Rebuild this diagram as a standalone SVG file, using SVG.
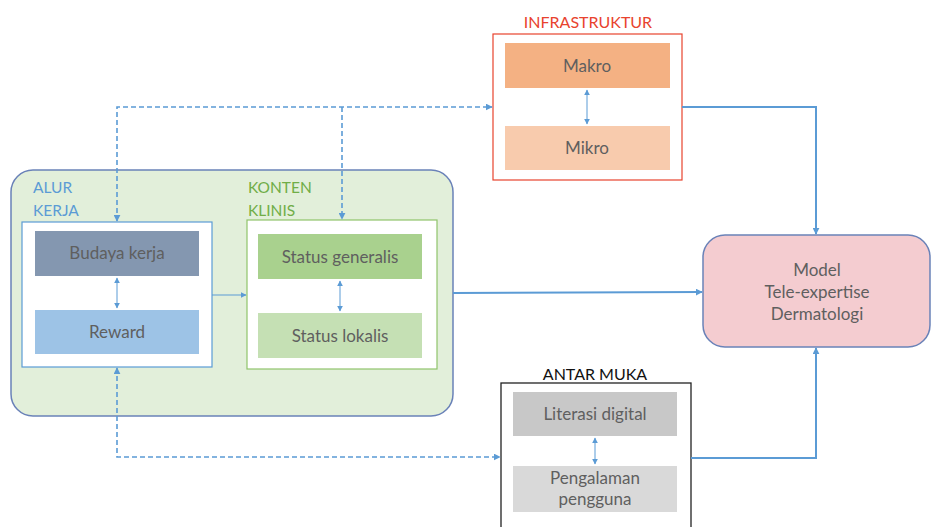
<svg xmlns="http://www.w3.org/2000/svg" width="938" height="527" viewBox="0 0 938 527">
<style>
text{font-family:Lato,"Open Sans","Liberation Sans",sans-serif;}
.lbl{font-size:17px;fill:#5f5f5f;text-anchor:middle;}
.ttl{font-size:15.5px;}
.hdr{font-size:16px;text-anchor:middle;}
.conn{fill:none;stroke:#5b9bd5;}
.thick{stroke-width:2;}
.thin{stroke-width:1;}
.dash{stroke-width:1.6;stroke-dasharray:5 3;}
</style>
<defs>
<marker id="ah" viewBox="0 0 10 10" refX="9" refY="5" markerWidth="7" markerHeight="7" markerUnits="userSpaceOnUse" orient="auto-start-reverse">
<path d="M0,0 L10,5 L0,10 Z" fill="#5b9bd5"/>
</marker>
<marker id="ahs" viewBox="0 0 10 10" refX="9" refY="5" markerWidth="6" markerHeight="6" markerUnits="userSpaceOnUse" orient="auto-start-reverse">
<path d="M0,0 L10,5 L0,10 Z" fill="#5b9bd5"/>
</marker>
</defs>
<rect width="938" height="527" fill="#ffffff"/>

<g id="green-container">
<rect x="11" y="170" width="442" height="246" rx="22" fill="#e2efda" stroke="#6a82b8" stroke-width="1.5"/>
</g>

<g id="alur-kerja">
<text class="ttl" x="33" y="193" fill="#5b9bd5">ALUR</text>
<text class="ttl" x="33" y="216" fill="#5b9bd5">KERJA</text>
<rect x="22" y="222" width="190" height="145" fill="#ffffff" stroke="#5b9bd5" stroke-width="1.2"/>
</g>
<g id="budaya-kerja">
<rect x="35" y="231" width="164" height="45" fill="#8497b0"/>
<text class="lbl" x="117" y="259">Budaya kerja</text>
</g>
<g id="reward">
<rect x="35" y="310" width="164" height="44" fill="#9dc3e6"/>
<text class="lbl" x="117" y="338">Reward</text>
</g>

<g id="konten-klinis">
<text class="ttl" x="248" y="193" fill="#70ad47">KONTEN</text>
<text class="ttl" x="248" y="216" fill="#70ad47">KLINIS</text>
<rect x="247" y="220" width="190" height="149" fill="#ffffff" stroke="#8fc36b" stroke-width="1.2"/>
</g>
<g id="status-generalis">
<rect x="258" y="234" width="164" height="45" fill="#a9d18e"/>
<text class="lbl" x="340" y="263">Status generalis</text>
</g>
<g id="status-lokalis">
<rect x="258" y="313" width="164" height="45" fill="#c5e0b4"/>
<text class="lbl" x="340" y="342">Status lokalis</text>
</g>

<g id="infrastruktur">
<text class="hdr" x="588" y="28" fill="#e8432e">INFRASTRUKTUR</text>
<rect x="493" y="34" width="189" height="146" fill="#ffffff" stroke="#e8432e" stroke-width="1.2"/>
</g>
<g id="makro">
<rect x="505" y="43" width="165" height="45" fill="#f4b183"/>
<text class="lbl" x="587" y="72">Makro</text>
</g>
<g id="mikro">
<rect x="505" y="126" width="165" height="44" fill="#f8cbad"/>
<text class="lbl" x="587" y="154">Mikro</text>
</g>

<g id="antar-muka">
<text class="hdr" x="595" y="380" fill="#111111">ANTAR MUKA</text>
<rect x="501" y="383" width="190" height="160" fill="#ffffff" stroke="#222222" stroke-width="1.3"/>
</g>
<g id="literasi-digital">
<rect x="513" y="392" width="164" height="44" fill="#c8c8c8"/>
<text class="lbl" x="595" y="420">Literasi digital</text>
</g>
<g id="pengalaman-pengguna">
<rect x="513" y="466" width="164" height="46" fill="#d9d9d9"/>
<text class="lbl" x="595" y="484">Pengalaman</text>
<text class="lbl" x="595" y="505">pengguna</text>
</g>

<g id="model">
<rect x="703" y="235" width="227" height="112" rx="22" fill="#f4ccd0" stroke="#6a82b8" stroke-width="1.5"/>
<text class="lbl" x="817" y="276" fill="#6f6364">Model</text>
<text class="lbl" x="817" y="298">Tele-expertise</text>
<text class="lbl" x="817" y="320">Dermatologi</text>
</g>

<g id="connectors">
<line class="conn thin" x1="117" y1="278" x2="117" y2="308" marker-start="url(#ahs)" marker-end="url(#ahs)"/>
<line class="conn thin" x1="340" y1="281" x2="340" y2="311" marker-start="url(#ahs)" marker-end="url(#ahs)"/>
<line class="conn thin" x1="587" y1="90" x2="587" y2="124" marker-start="url(#ahs)" marker-end="url(#ahs)"/>
<line class="conn thin" x1="595" y1="438" x2="595" y2="464" marker-start="url(#ahs)" marker-end="url(#ahs)"/>
<line class="conn thin" x1="212" y1="295" x2="246" y2="295" marker-end="url(#ahs)"/>
<polyline class="conn dash" points="117,221 117,107 492,107" marker-start="url(#ah)" marker-end="url(#ah)"/>
<line class="conn dash" x1="342" y1="107" x2="342" y2="219" marker-end="url(#ah)"/>
<polyline class="conn dash" points="117,368 117,457 500,457" marker-start="url(#ah)" marker-end="url(#ah)"/>
<line class="conn thick" x1="453" y1="293" x2="702" y2="292" marker-end="url(#ah)"/>
<polyline class="conn thick" points="682,107 816,107 816,234" marker-end="url(#ah)"/>
<polyline class="conn thick" points="691,458 816,458 816,348" marker-end="url(#ah)"/>
</g>
</svg>
